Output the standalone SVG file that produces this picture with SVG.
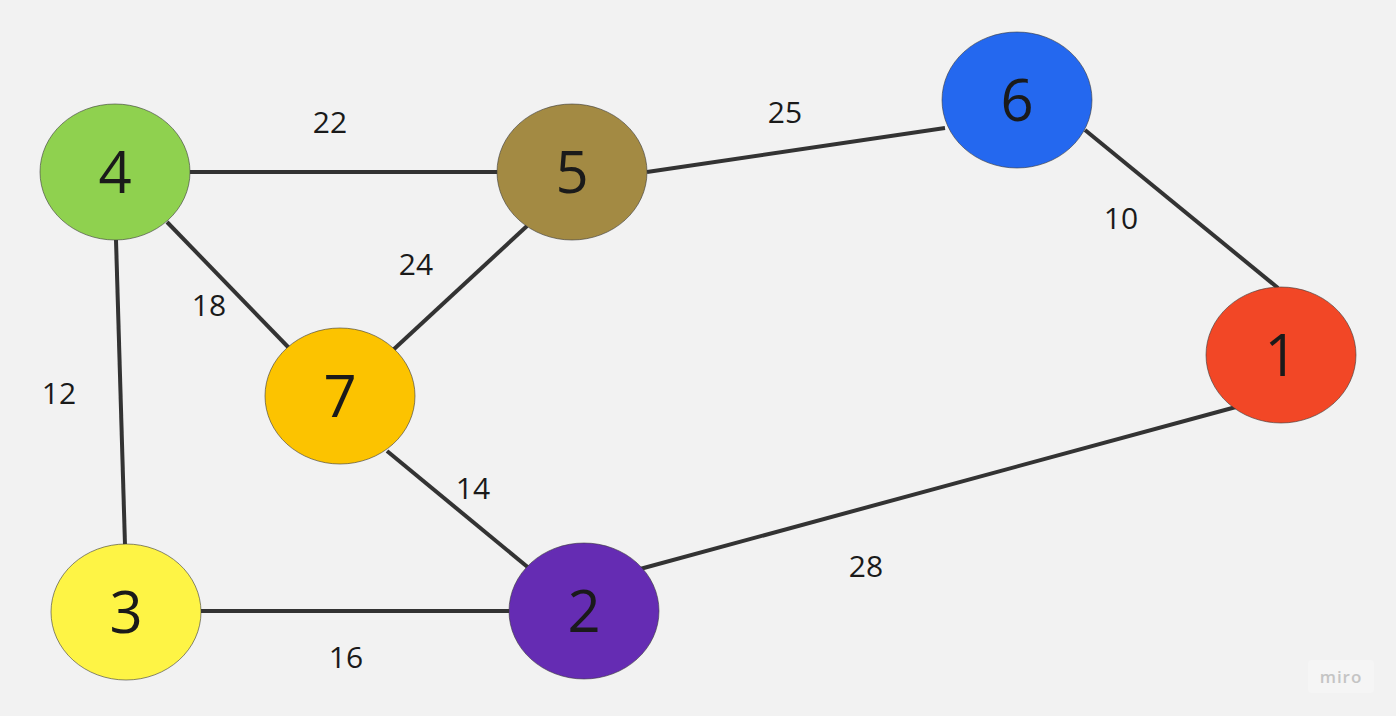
<svg xmlns="http://www.w3.org/2000/svg" width="1396" height="716" viewBox="0 0 1396 716">
<style>
.node{stroke:#3a3a3a;stroke-width:0.6}
.num{font-family:"Open Sans",sans-serif;font-size:58px;fill:#1a1a1a;text-anchor:middle}
.lbl{font-family:"Open Sans",sans-serif;font-size:30px;fill:#1a1a1a;text-anchor:middle}
.edge{stroke:#333;stroke-width:4;fill:none}
</style>
<rect width="1396" height="716" fill="#f2f2f2"/>
<g id="connectors">
<line class="edge" x1="190" y1="172" x2="497" y2="172"/>
<line class="edge" x1="647" y1="172" x2="945" y2="128"/>
<line class="edge" x1="1085" y1="130" x2="1278" y2="288"/>
<line class="edge" x1="167" y1="222" x2="290" y2="349"/>
<line class="edge" x1="527" y1="226" x2="393" y2="350"/>
<line class="edge" x1="116" y1="240" x2="125" y2="545"/>
<line class="edge" x1="387" y1="451" x2="530" y2="569"/>
<line class="edge" x1="201" y1="611" x2="509" y2="611"/>
<line class="edge" x1="640" y1="569" x2="1236" y2="407"/>
<text class="lbl" x="330" y="133">22</text>
<text class="lbl" x="785" y="123">25</text>
<text class="lbl" x="1121" y="229">10</text>
<text class="lbl" x="209" y="316">18</text>
<text class="lbl" x="416" y="275">24</text>
<text class="lbl" x="59" y="404">12</text>
<text class="lbl" x="473" y="499">14</text>
<text class="lbl" x="866" y="577">28</text>
<text class="lbl" x="346" y="668">16</text>
</g>
<g id="node4"><ellipse class="node" cx="115" cy="172" rx="75" ry="68" fill="#8fd14f"/><text class="num" x="115" y="193">4</text></g>
<g id="node5"><ellipse class="node" cx="572" cy="172" rx="75" ry="68" fill="#a38a43"/><text class="num" x="572" y="193">5</text></g>
<g id="node6"><ellipse class="node" cx="1017" cy="100" rx="75" ry="68" fill="#2468ef"/><text class="num" x="1017" y="121">6</text></g>
<g id="node7"><ellipse class="node" cx="340" cy="396" rx="75" ry="68" fill="#fcc300"/><text class="num" x="340" y="417">7</text></g>
<g id="node1"><ellipse class="node" cx="1281" cy="355" rx="75" ry="68" fill="#f24726"/><text class="num" x="1281" y="376">1</text></g>
<g id="node3"><ellipse class="node" cx="126" cy="612" rx="75" ry="68" fill="#fef445"/><text class="num" x="126" y="633">3</text></g>
<g id="node2"><ellipse class="node" cx="584" cy="611" rx="75" ry="68" fill="#652cb3"/><text class="num" x="584" y="632">2</text></g>
<g id="logo"><rect x="1308" y="660" width="66" height="33" rx="4" fill="#f5f5f5"/><text x="1341" y="683" font-family="Open Sans, sans-serif" font-size="17" font-weight="600" fill="#c4c4c4" text-anchor="middle" letter-spacing="1">miro</text></g>
</svg>
